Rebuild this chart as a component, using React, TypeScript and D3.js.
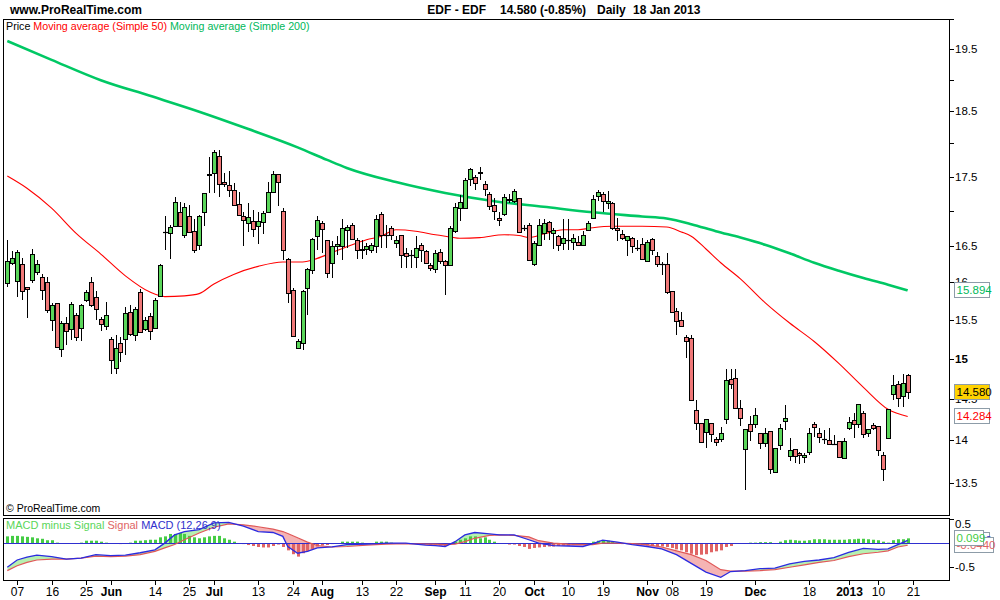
import React from "react";
import * as d3 from "d3";

// ---------------- data ----------------
const HOLIDAYS = ["2012-12-25", "2012-12-26", "2013-01-01"];
function tradingDays(start: string, end: string): string[] {
  const out: string[] = [];
  const d = new Date(start + "T12:00:00Z");
  const e = new Date(end + "T12:00:00Z");
  while (d <= e) {
    const wd = d.getUTCDay();
    const s = d.toISOString().slice(0, 10);
    if (wd !== 0 && wd !== 6 && !HOLIDAYS.includes(s)) out.push(s);
    d.setUTCDate(d.getUTCDate() + 1);
  }
  return out;
}
const dates = tradingDays("2012-05-03", "2013-01-18");

const opens = [
  15.99, 16.26, 16.02, 16.25, 15.94, 16.04, 16.14, 16.07, 16.0, 15.5,
  15.72, 15.12, 15.46, 15.38, 15.57, 15.4, 15.77, 16.0, 15.8, 15.51,
  15.42, 15.25, 14.88, 15.2, 15.25, 15.6, 15.3, 15.87, 15.38, 15.55,
  15.4, 15.82, 16.7, 16.68, 16.79, 16.98, 16.66, 16.93, 16.72, 16.51,
  16.98, 17.54, 17.56, 17.81, 17.42, 17.37, 17.3, 17.1, 16.92, 16.82,
  16.85, 16.79, 16.84, 16.98, 17.27, 17.54, 17.0, 16.32, 15.9, 15.14,
  15.2, 15.92, 16.17, 16.64, 16.83, 16.59, 16.26, 16.5, 16.5, 16.73,
  16.8, 16.58, 16.46, 16.46, 16.45, 16.5, 16.95, 16.66, 16.76, 16.55,
  16.65, 16.4, 16.37, 16.35, 16.51, 16.43, 16.24, 16.19, 16.42, 16.29,
  16.24, 16.72, 17.04, 17.04, 17.47, 17.5, 17.56, 17.39, 17.25, 17.08,
  16.9, 16.95, 17.16, 17.14, 17.18, 16.75, 16.8, 16.25, 16.51, 16.68,
  16.84, 16.68, 16.64, 16.54, 16.59, 16.56, 16.56, 16.51, 16.73, 16.9,
  17.21, 17.25, 17.12, 17.12, 16.76, 16.67, 16.58, 16.62, 16.47, 16.53,
  16.3, 16.6, 16.36, 16.25, 16.25, 15.88, 15.62, 15.5, 15.28, 15.27,
  14.36, 14.2, 14.1, 14.21, 14.01, 14.01, 14.25, 14.75, 14.76, 14.39,
  13.9, 14.19, 14.19, 14.08, 13.97, 14.11, 13.63, 13.94, 14.23, 13.81,
  13.9, 13.85, 13.8, 13.86, 14.19, 14.09, 14.01, 14.0, 13.96, 13.99,
  13.79, 14.15, 14.24, 14.19, 14.33, 14.09, 14.18, 14.17, 13.82, 14.02,
  14.56, 14.68, 14.53, 14.79,
];
const highs = [
  16.59, 16.43, 16.45, 16.33, 15.94, 16.46, 16.31, 16.12, 16.08, 15.72,
  15.73, 15.48, 15.54, 15.74, 15.59, 15.71, 15.9, 16.08, 15.89, 15.54,
  15.74, 15.28, 15.3, 15.28, 15.67, 15.7, 15.67, 15.91, 15.54, 15.59,
  15.79, 16.25, 16.93, 16.8, 17.2, 17.13, 17.11, 17.09, 16.89, 16.94,
  17.26, 17.8, 17.9, 17.9, 17.56, 17.58, 17.4, 17.28, 16.99, 17.12,
  17.01, 16.99, 17.0, 17.42, 17.59, 17.54, 17.04, 16.33, 15.92, 15.25,
  15.9, 16.2, 16.61, 16.92, 16.86, 16.59, 16.57, 16.64, 16.89, 16.8,
  16.83, 16.61, 16.59, 16.55, 16.55, 16.94, 16.98, 16.8, 16.79, 16.64,
  16.66, 16.47, 16.45, 16.64, 16.55, 16.45, 16.27, 16.45, 16.46, 16.31,
  16.78, 17.11, 17.23, 17.48, 17.63, 17.52, 17.64, 17.43, 17.28, 17.18,
  16.99, 17.25, 17.25, 17.32, 17.18, 16.8, 16.83, 16.57, 16.89, 16.89,
  16.85, 16.75, 16.65, 16.88, 16.88, 16.67, 16.64, 16.72, 16.85, 17.23,
  17.31, 17.27, 17.29, 17.13, 16.9, 16.73, 16.64, 16.63, 16.59, 16.61,
  16.58, 16.61, 16.42, 16.28, 16.41, 15.88, 15.66, 15.6, 15.3, 15.3,
  14.48, 14.2, 14.25, 14.21, 14.04, 14.16, 14.87, 14.87, 14.87, 14.48,
  14.13, 14.29, 14.39, 14.08, 14.14, 14.11, 13.91, 14.19, 14.42, 14.02,
  13.9, 13.86, 13.85, 14.15, 14.22, 14.15, 14.12, 14.14, 14.06, 13.99,
  14.03, 14.28, 14.32, 14.43, 14.35, 14.13, 14.2, 14.17, 13.86, 14.38,
  14.8, 14.72, 14.81, 14.81,
];
const lows = [
  15.94, 16.24, 15.81, 15.76, 15.53, 15.99, 16.1, 15.76, 15.59, 15.35,
  15.15, 15.02, 15.17, 15.24, 15.22, 15.22, 15.74, 15.67, 15.5, 15.35,
  15.37, 14.81, 14.81, 14.96, 15.05, 15.29, 15.23, 15.34, 15.35, 15.24,
  15.4, 15.81, 16.45, 16.32, 16.78, 16.77, 16.61, 16.68, 16.41, 16.45,
  16.79, 17.26, 17.26, 17.2, 17.35, 17.2, 17.08, 16.93, 16.5, 16.7,
  16.63, 16.53, 16.67, 16.98, 17.26, 17.07, 16.31, 15.73, 15.28, 15.13,
  15.11, 15.56, 16.11, 16.45, 16.41, 16.06, 16.06, 16.38, 16.31, 16.47,
  16.6, 16.32, 16.32, 16.38, 16.4, 16.4, 16.48, 16.47, 16.59, 16.48,
  16.2, 16.2, 16.2, 16.2, 16.28, 16.25, 16.15, 16.13, 16.25, 15.83,
  16.23, 16.69, 16.85, 17.04, 17.36, 17.31, 17.45, 17.22, 17.01, 16.87,
  16.78, 16.92, 17.11, 17.11, 16.69, 16.72, 16.3, 16.22, 16.5, 16.59,
  16.59, 16.46, 16.43, 16.45, 16.45, 16.45, 16.5, 16.5, 16.71, 16.88,
  17.14, 16.99, 17.03, 16.73, 16.57, 16.59, 16.36, 16.4, 16.43, 16.31,
  16.3, 16.38, 16.21, 16.1, 15.84, 15.61, 15.3, 15.42, 15.01, 14.49,
  14.12, 13.98, 13.91, 13.98, 13.93, 13.98, 14.19, 14.62, 14.39, 14.17,
  13.42, 13.99, 14.15, 13.9, 13.92, 13.61, 13.62, 13.88, 14.12, 13.75,
  13.73, 13.72, 13.73, 13.83, 14.04, 13.97, 13.95, 13.95, 13.94, 13.8,
  13.79, 14.12, 14.03, 14.15, 14.02, 14.04, 14.12, 13.81, 13.52, 14.01,
  14.48, 14.4, 14.4, 14.5,
];
const closes = [
  16.3, 16.33, 16.42, 15.88, 15.91, 16.39, 16.25, 15.9, 15.63, 15.7,
  15.15, 15.46, 15.35, 15.71, 15.28, 15.7, 15.87, 15.7, 15.64, 15.45,
  15.57, 14.98, 15.13, 15.08, 15.59, 15.32, 15.64, 15.34, 15.5, 15.36,
  15.77, 16.24, 16.7, 16.77, 17.13, 16.78, 17.06, 16.7, 16.45, 16.92,
  17.26, 17.53, 17.87, 17.39, 17.39, 17.3, 17.08, 16.94, 16.87, 16.91,
  16.74, 16.86, 16.97, 17.28, 17.54, 17.42, 16.45, 15.86, 15.29, 15.23,
  15.89, 16.18, 16.6, 16.87, 16.74, 16.13, 16.5, 16.53, 16.75, 16.77,
  16.6, 16.45, 16.45, 16.5, 16.51, 16.88, 16.65, 16.65, 16.66, 16.59,
  16.38, 16.36, 16.37, 16.48, 16.45, 16.27, 16.2, 16.4, 16.3, 16.24,
  16.75, 17.06, 17.13, 17.45, 17.61, 17.4, 17.57, 17.32, 17.07, 17.0,
  16.87, 17.2, 17.17, 17.29, 16.7, 16.75, 16.31, 16.55, 16.8, 16.83,
  16.71, 16.73, 16.51, 16.61, 16.59, 16.62, 16.51, 16.65, 16.83, 17.17,
  17.28, 17.14, 17.15, 16.75, 16.73, 16.62, 16.64, 16.5, 16.47, 16.32,
  16.56, 16.45, 16.25, 16.25, 15.87, 15.61, 15.48, 15.42, 15.22, 14.49,
  14.2, 13.98, 14.25, 14.07, 13.98, 14.08, 14.73, 14.68, 14.39, 14.27,
  14.13, 14.11, 14.3, 13.97, 14.08, 13.66, 13.91, 14.14, 14.27, 13.88,
  13.81, 13.82, 13.82, 14.08, 14.16, 14.04, 14.01, 13.95, 13.96, 13.8,
  13.99, 14.22, 14.19, 14.43, 14.07, 14.13, 14.14, 13.88, 13.66, 14.37,
  14.67, 14.51, 14.7, 14.58,
];

const ma50Dates = [
  "2012-05-03", "2012-05-09", "2012-05-16", "2012-05-23", "2012-05-30", "2012-06-06", "2012-06-13",
  "2012-06-18", "2012-06-22", "2012-06-27", "2012-07-02", "2012-07-06", "2012-07-13", "2012-07-20",
  "2012-07-26", "2012-07-31", "2012-08-03", "2012-08-08", "2012-08-14", "2012-08-17", "2012-08-22",
  "2012-08-28", "2012-09-03", "2012-09-06", "2012-09-10", "2012-09-14", "2012-09-21", "2012-09-26",
  "2012-09-28", "2012-10-03", "2012-10-09", "2012-10-12", "2012-10-17", "2012-10-23", "2012-10-31",
  "2012-11-07", "2012-11-12", "2012-11-14", "2012-11-19", "2012-11-22", "2012-11-28", "2012-12-05",
  "2012-12-12", "2012-12-19", "2012-12-28", "2013-01-07", "2013-01-14", "2013-01-18",
];
const ma50Values = [
  17.51, 17.33, 17.04, 16.68, 16.39, 16.09, 15.87,
  15.81, 15.82, 15.85, 15.98, 16.11, 16.22, 16.28,
  16.28, 16.33, 16.41, 16.49, 16.59, 16.64, 16.73,
  16.71, 16.66, 16.63, 16.61, 16.62, 16.66, 16.65,
  16.62, 16.67, 16.73, 16.73, 16.76, 16.78, 16.78,
  16.77, 16.7, 16.64, 16.46, 16.27, 16.05, 15.73,
  15.46, 15.22, 14.94, 14.64, 14.37, 14.284,
];

const ma200Dates = [
  "2012-05-03", "2012-05-16", "2012-05-30", "2012-06-13", "2012-06-27", "2012-07-11", "2012-07-25",
  "2012-08-02", "2012-08-08", "2012-08-22", "2012-09-05", "2012-09-19", "2012-10-03", "2012-10-17",
  "2012-10-31", "2012-11-07", "2012-11-14", "2012-11-21", "2012-11-28", "2012-12-05", "2012-12-12",
  "2012-12-19", "2012-12-28", "2013-01-07", "2013-01-14", "2013-01-18",
];
const ma200Values = [
  19.63, 19.32, 18.99, 18.74, 18.49, 18.22, 17.94,
  17.75, 17.63, 17.42, 17.26, 17.14, 17.06, 16.98,
  16.92, 16.89, 16.81, 16.71, 16.62, 16.52, 16.4,
  16.27, 16.16, 16.06, 15.97, 15.894,
];

const macdDates = [
  "2012-05-03", "2012-05-07", "2012-05-09", "2012-05-11", "2012-05-16", "2012-05-21", "2012-05-24",
  "2012-05-29", "2012-06-01", "2012-06-06", "2012-06-11", "2012-06-14", "2012-06-18", "2012-06-20",
  "2012-06-22", "2012-06-27", "2012-07-02", "2012-07-05", "2012-07-10", "2012-07-13", "2012-07-18",
  "2012-07-20", "2012-07-23", "2012-07-25", "2012-07-27", "2012-07-31", "2012-08-03", "2012-08-08",
  "2012-08-14", "2012-08-20", "2012-08-24", "2012-08-30", "2012-09-03", "2012-09-05", "2012-09-07",
  "2012-09-11", "2012-09-13", "2012-09-18", "2012-09-20", "2012-09-25", "2012-09-28", "2012-10-02",
  "2012-10-05", "2012-10-10", "2012-10-15", "2012-10-17", "2012-10-19", "2012-10-24", "2012-10-29",
  "2012-11-01", "2012-11-06", "2012-11-09", "2012-11-14", "2012-11-19", "2012-11-22", "2012-11-26",
  "2012-11-29", "2012-12-04", "2012-12-07", "2012-12-12", "2012-12-17", "2012-12-20", "2012-12-27",
  "2013-01-02", "2013-01-07", "2013-01-10", "2013-01-14", "2013-01-16", "2013-01-18",
];
const macdValues = [
  -0.5, -0.35, -0.29, -0.25, -0.28, -0.33, -0.31,
  -0.24, -0.26, -0.25, -0.2, -0.14, 0.0, 0.17,
  0.24, 0.28, 0.42, 0.43, 0.35, 0.24, 0.22,
  0.14, -0.07, -0.21, -0.17, -0.1, -0.08, -0.03,
  -0.02, 0.0, 0.0, -0.04, -0.05, -0.07, 0.03,
  0.17, 0.22, 0.19, 0.17, 0.17, 0.07, 0.0,
  -0.05, -0.06, -0.07, -0.01, 0.06, 0.02, -0.03,
  -0.07, -0.12, -0.24, -0.42, -0.6, -0.71, -0.59,
  -0.57, -0.53, -0.52, -0.43, -0.38, -0.35, -0.3,
  -0.19, -0.11, -0.13, -0.12, -0.03, 0.055,
];
const signalValues = [
  -0.57, -0.47, -0.4, -0.35, -0.33, -0.33, -0.31,
  -0.27, -0.28, -0.27, -0.24, -0.17, -0.1, -0.03,
  0.07, 0.21, 0.33, 0.4, 0.38, 0.34, 0.29,
  0.24, 0.2, 0.11, 0.02, -0.05, -0.08, -0.07,
  -0.04, -0.02, -0.01, -0.02, -0.02, -0.03, -0.02,
  0.03, 0.1, 0.16, 0.17, 0.16, 0.13, 0.05,
  0.0, -0.02, -0.03, -0.03, 0.0, 0.0, -0.01,
  -0.03, -0.08, -0.16, -0.24, -0.36, -0.55, -0.58,
  -0.58, -0.57, -0.55, -0.5, -0.45, -0.4, -0.36,
  -0.28, -0.22, -0.19, -0.16, -0.08, -0.044,
];
const histValues = [
  0.14, 0.15, 0.15, 0.14, 0.13, 0.12, 0.1, 0.09, 0.06, 0.06,
  0.01, 0.0, -0.01, -0.01, 0.0, 0.01, 0.05, 0.05, 0.05, 0.03,
  0.01, 0.0, -0.01, -0.02, 0.0, 0.01, 0.05, 0.05, 0.06, 0.07,
  0.07, 0.12, 0.14, 0.19, 0.19, 0.21, 0.19, 0.15, 0.12, 0.1,
  0.12, 0.14, 0.15, 0.15, 0.1, 0.07, 0.03, 0.0, -0.02, -0.04,
  -0.06, -0.08, -0.09, -0.09, -0.06, -0.03, -0.08, -0.15, -0.23, -0.28,
  -0.21, -0.17, -0.12, -0.07, -0.05, -0.04, -0.02, 0.0, 0.03, 0.03,
  0.03, 0.03, 0.01, 0.0, 0.0, 0.03, 0.03, 0.03, 0.01, 0.0,
  0.0, -0.01, -0.01, -0.02, -0.03, -0.02, -0.03, -0.03, -0.05, -0.06,
  -0.01, 0.03, 0.07, 0.1, 0.14, 0.14, 0.1, 0.12, 0.07, 0.03,
  0.0, -0.01, -0.03, -0.03, -0.06, -0.08, -0.12, -0.1, -0.09, -0.08,
  -0.07, -0.07, -0.06, -0.05, -0.05, -0.04, -0.03, -0.03, -0.02, 0.03,
  0.05, 0.06, 0.05, 0.03, 0.01, -0.02, -0.02, -0.03, -0.03, -0.04,
  -0.05, -0.06, -0.07, -0.07, -0.08, -0.1, -0.13, -0.15, -0.19, -0.22,
  -0.25, -0.24, -0.23, -0.19, -0.17, -0.15, -0.08, -0.06, -0.01, 0.0,
  0.0, 0.01, 0.01, 0.02, 0.02, 0.02, 0.0, 0.03, 0.06, 0.07,
  0.06, 0.05, 0.05, 0.06, 0.08, 0.08, 0.08, 0.07, 0.07, 0.07,
  0.07, 0.08, 0.08, 0.09, 0.09, 0.08, 0.07, 0.06, 0.03, 0.01,
  0.06, 0.08, 0.08, 0.099,
];

const xTickDates = [
  "2012-05-07", "2012-05-16", "2012-05-25", "2012-06-01", "2012-06-14", "2012-06-25", "2012-07-02",
  "2012-07-13", "2012-07-24", "2012-08-01", "2012-08-13", "2012-08-22", "2012-09-03", "2012-09-11",
  "2012-09-20", "2012-10-01", "2012-10-10", "2012-10-19", "2012-11-01", "2012-11-08", "2012-11-19",
  "2012-12-03", "2012-12-18", "2013-01-02", "2013-01-10", "2013-01-21",
];
const xTickLabels = [
  "07", "16", "25", "Jun", "14", "25", "Jul", "13", "24", "Aug", "13", "22", "Sep", "11",
  "20", "Oct", "10", "19", "Nov", "08", "19", "Dec", "18", "2013", "10", "21",
];
const yTickValues = [20, 19.5, 19, 18.5, 18, 17.5, 17, 16.5, 16, 15.5, 15, 14.5, 14, 13.5];
const yTickLabels = ["", "19.5", "", "18.5", "", "17.5", "", "16.5", "16", "15.5", "15", "14.5", "14", "13.5"];
const macdTickValues = [0.5, -0.5];

// ---------------- chart ----------------
const FONT = "'Liberation Sans', Arial, Helvetica, sans-serif";
const GREEN_BODY = "#5ad65a";
const RED_BODY = "#f07878";
const MA50_C = "#ff0000";
const MA200_C = "#00c864";

export default function App() {
  const L = 3, R = 949, T = 19, B = 515;
  const MT = 518, MB = 580;

  const idxOf = (d: string) => {
    const i = dates.indexOf(d);
    return i >= 0 ? i : dates.length; // next session after the last one
  };
  const x = d3.scaleLinear().domain([0, dates.length - 1]).range([7.3, 907.7]);
  const y = d3.scaleLog().domain([13.14, 20.0]).range([B, T]);
  const ym = d3.scaleLinear().domain([-0.765, 0.521]).range([MB, MT]);

  type P = { i: number; v: number };
  const lineP = d3
    .line<P>()
    .x((p) => x(p.i))
    .y((p) => y(p.v))
    .curve(d3.curveMonotoneX);
  const ma50 = ma50Dates.map((d, k) => ({ i: idxOf(d), v: ma50Values[k] }));
  const ma200 = ma200Dates.map((d, k) => ({ i: idxOf(d), v: ma200Values[k] }));

  type M = { i: number; m: number; s: number };
  const mrows: M[] = macdDates.map((d, k) => ({ i: idxOf(d), m: macdValues[k], s: signalValues[k] }));
  const mLine = d3.line<M>().x((r) => x(r.i)).y((r) => ym(r.m));
  const sLine = d3.line<M>().x((r) => x(r.i)).y((r) => ym(r.s));
  const between = d3.area<M>().x((r) => x(r.i)).y0((r) => ym(r.s)).y1((r) => ym(r.m));
  const aboveSig = d3.area<M>().x((r) => x(r.i)).y0(MT).y1((r) => ym(r.s));
  const belowSig = d3.area<M>().x((r) => x(r.i)).y0(MB).y1((r) => ym(r.s));

  const lastClose = closes[closes.length - 1];
  const lastMa50 = ma50Values[ma50Values.length - 1];
  const lastMa200 = ma200Values[ma200Values.length - 1];
  const lastHist = histValues[histValues.length - 1];
  const lastSig = signalValues[signalValues.length - 1];
  const lastMacd = macdValues[macdValues.length - 1];

  const box = (
    key: string,
    cy: number,
    label: string,
    color: string,
    fill: string,
    w: number
  ) => (
    <g key={key}>
      <rect x={954.5} y={Math.round(cy) - 7.5} width={w} height={15} fill={fill} stroke="#8d9ca8" strokeWidth={1} />
      <text x={956.5} y={Math.round(cy) + 4} fontSize={11.5} fill={color} fontFamily={FONT}>
        {label}
      </text>
    </g>
  );

  return (
    <svg
      width={1000}
      height={600}
      style={{ position: "absolute", left: 0, top: 0, background: "#fff" }}
      fontFamily={FONT}
    >
      <defs>
        <clipPath id="mainClip">
          <rect x={L} y={T} width={R - L} height={B - T} />
        </clipPath>
        <clipPath id="macdClip">
          <rect x={L} y={MT} width={R - L} height={MB - MT} />
        </clipPath>
        <clipPath id="aboveSig">
          <path d={aboveSig(mrows) || ""} />
        </clipPath>
        <clipPath id="belowSig">
          <path d={belowSig(mrows) || ""} />
        </clipPath>
      </defs>
      <rect x={0} y={0} width={1000} height={600} fill="#fff" />

      {/* header */}
      <text x={10} y={14} fontSize={12} fontWeight="bold" fill="#000">www.ProRealTime.com</text>
      <text x={486} y={14} fontSize={12} fontWeight="bold" textAnchor="end" fill="#000">EDF - EDF</text>
      <text x={500} y={14} fontSize={12} fontWeight="bold" fill="#000">14.580 (-0.85%)</text>
      <text x={597} y={14} fontSize={12} fontWeight="bold" fill="#000">Daily</text>
      <text x={633} y={14} fontSize={12} fontWeight="bold" fill="#000">18 Jan 2013</text>

      {/* main panel */}
      <g clipPath="url(#mainClip)">
        <path d={lineP(ma200) || ""} fill="none" stroke={MA200_C} strokeWidth={2.6} />
        <path d={lineP(ma50) || ""} fill="none" stroke={MA50_C} strokeWidth={1.1} />
        {dates.map((d, i) => {
          const r = Math.round(x(i));
          const cx = r + 0.5;
          const o = opens[i];
          const c = closes[i];
          const up = c >= o;
          const yTop = Math.round(y(Math.max(o, c)));
          const yBot = Math.round(y(Math.min(o, c)));
          return (
            <g key={d}>
              <line x1={cx} x2={cx} y1={Math.round(y(highs[i]))} y2={Math.round(y(lows[i]))} stroke="#000" strokeWidth={1} />
              {yBot - yTop < 1 ? (
                <line x1={r - 2} x2={r + 3} y1={yTop + 0.5} y2={yTop + 0.5} stroke="#000" strokeWidth={1.2} />
              ) : (
                <rect
                  x={r - 1.5}
                  y={yTop + 0.5}
                  width={4}
                  height={yBot - yTop}
                  fill={up ? GREEN_BODY : RED_BODY}
                  stroke="#000"
                  strokeWidth={1}
                />
              )}
            </g>
          );
        })}
      </g>
      <rect x={L + 0.5} y={T + 0.5} width={R - L} height={B - T} fill="none" stroke="#000" strokeWidth={1} />

      {/* legend */}
      <text x={6} y={29.5} fontSize={10.7}>
        <tspan fill="#000">Price </tspan>
        <tspan fill={MA50_C}>Moving average (Simple 50) </tspan>
        <tspan fill="#00b85a">Moving average (Simple 200)</tspan>
      </text>
      <text x={6} y={512} fontSize={10.5} fill="#000">© ProRealTime.com</text>

      {/* price axis */}
      {yTickValues.map((v, k) => (
        <g key={"yt" + v}>
          <line x1={R + 0.5} x2={R + 5} y1={Math.round(y(v)) + 0.5} y2={Math.round(y(v)) + 0.5} stroke="#000" />
          {yTickLabels[k] && (
            <text
              x={955}
              y={y(v) + 4}
              fontSize={11.5}
              fontWeight={v === 15 ? "bold" : "normal"}
              fill="#000"
            >
              {yTickLabels[k]}
            </text>
          )}
        </g>
      ))}
      {box("b200", y(lastMa200), lastMa200.toFixed(3), "#00b85a", "#fff", 35)}
      {box("bclose", y(lastClose), lastClose.toFixed(3), "#000", "#ffd200", 35)}
      {box("b50", y(lastMa50), lastMa50.toFixed(3), "#ff0000", "#fff", 35)}

      {/* MACD panel */}
      <g clipPath="url(#macdClip)">
        <path d={between(mrows) || ""} fill="#b6f0b0" clipPath="url(#aboveSig)" />
        <path d={between(mrows) || ""} fill="#f5b4b4" clipPath="url(#belowSig)" />
        {histValues.map((h, i) => {
          const y0 = ym(0);
          const y1 = ym(h);
          return (
            <rect
              key={"h" + i}
              x={Math.round(x(i)) - 1}
              y={Math.min(y0, y1)}
              width={3}
              height={Math.abs(y1 - y0)}
              fill={h >= 0 ? "#44cc44" : "#e06464"}
            />
          );
        })}
        <line x1={L} x2={R} y1={Math.round(ym(0)) + 0.5} y2={Math.round(ym(0)) + 0.5} stroke="#2f2fd0" strokeWidth={1.2} />
        <path d={sLine(mrows) || ""} fill="none" stroke="#e05858" strokeWidth={1.2} />
        <path d={mLine(mrows) || ""} fill="none" stroke="#2b2be0" strokeWidth={1.3} />
      </g>
      <rect x={L + 0.5} y={MT + 0.5} width={R - L} height={MB - MT} fill="none" stroke="#000" strokeWidth={1} />
      <text x={6} y={529} fontSize={11}>
        <tspan fill="#5ad65a">MACD minus Signal </tspan>
        <tspan fill="#e06464">Signal </tspan>
        <tspan fill="#3030cc">MACD (12,26,9)</tspan>
      </text>
      {macdTickValues.map((v) => (
        <g key={"mt" + v}>
          <line x1={R + 0.5} x2={R + 5} y1={Math.round(ym(v)) + 0.5} y2={Math.round(ym(v)) + 0.5} stroke="#000" />
          <text x={955} y={Math.max(ym(v), MT + 6) + 4} fontSize={11.5} fill="#000">
            {v.toFixed(1)}
          </text>
        </g>
      ))}
      {box("mb", ym(lastMacd), (0.0546).toFixed(4), "#3030cc", "#fff", 35)}
      {box("ms", ym(lastSig), lastSig.toFixed(4), "#e06464", "#fff", 39)}
      {box("mh", ym(lastHist), lastHist.toFixed(3), "#44cc44", "#fff", 29)}

      {/* time axis */}
      {xTickDates.map((d, k) => {
        const xi = Math.round(x(idxOf(d))) + 0.5;
        const lab = xTickLabels[k];
        const bold = isNaN(Number(lab)) || lab.length === 4;
        return (
          <g key={"xt" + k}>
            <line x1={xi} x2={xi} y1={MB + 1} y2={MB + 5} stroke="#000" />
            <text x={xi} y={596} fontSize={12} textAnchor="middle" fontWeight={bold ? "bold" : "normal"} fill="#000">
              {lab}
            </text>
          </g>
        );
      })}
    </svg>
  );
}
